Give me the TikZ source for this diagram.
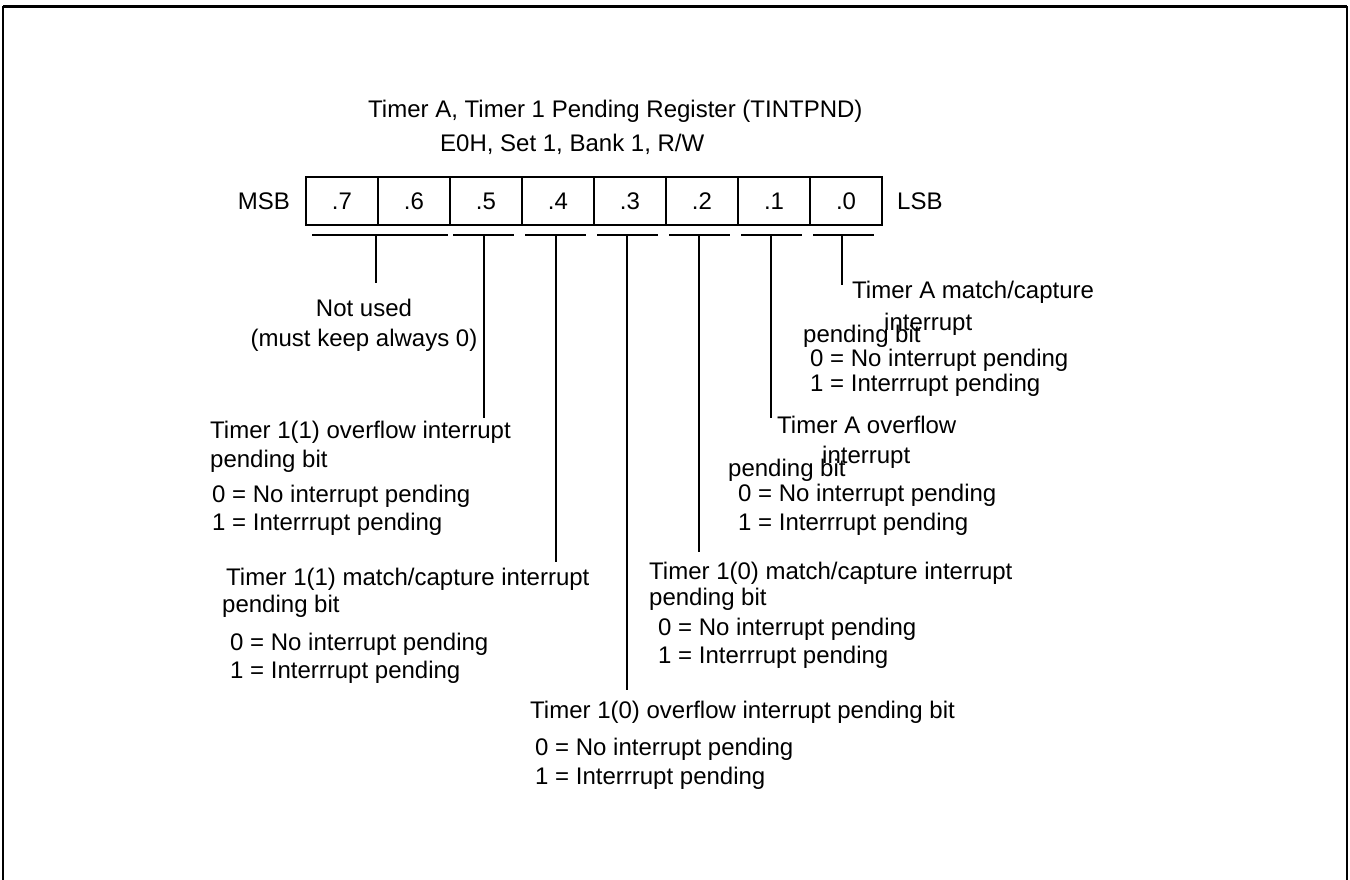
\documentclass[tikz,border=0pt]{standalone}
\usepackage{fontspec}
\setmainfont{Liberation Sans}
\begin{document}
\begin{tikzpicture}[x=1pt,y=-1pt,
  txt/.style={font=\fontsize{24}{28}\selectfont, inner sep=0pt, anchor=base west},
  cell/.style={draw, line width=1.8pt, minimum width=72pt, minimum height=48pt, inner sep=0pt, font=\fontsize{24}{28}\selectfont},
  uline/.style={line width=1.5pt},
  lead/.style={line width=1.5pt}]
\useasboundingbox (0,0) rectangle (1350,880);
% frame
\draw[line width=1.5pt] (3,880) -- (3,7) -- (1347,7) -- (1347,880);
\draw[line width=3pt] (3,7) -- (1347,7);
% titles
\node[txt] (title) at (368,118) {Timer A, Timer 1 Pending Register (TINTPND)};
\node[txt] (sub) at (440,152) {E0H, Set 1, Bank 1, R/W};
% register cells
\foreach \i/\lab in {0/.7,1/.6,2/.5,3/.4,4/.3,5/.2,6/.1,7/.0}
  \node[cell] (c\i) at (342+72*\i,201) {\lab};
\node[txt, anchor=base east] (msb) at (290,209) {MSB};
\node[txt] (lsb) at (897,209) {LSB};
% underlines
\coordinate (a76) at (312,235); \coordinate (b76) at (448,235);
\coordinate (a5) at (453,235); \coordinate (b5) at (514,235);
\coordinate (a4) at (525,235); \coordinate (b4) at (586,235);
\coordinate (a3) at (597,235); \coordinate (b3) at (658,235);
\coordinate (a2) at (669,235); \coordinate (b2) at (730,235);
\coordinate (a1) at (741,235); \coordinate (b1) at (802,235);
\coordinate (a0) at (813,235); \coordinate (b0) at (874,235);
\foreach \k in {76,5,4,3,2,1,0} \draw[uline] (a\k) -- (b\k);
% leader tops and ends
\coordinate (t76) at (376,235); \coordinate (e76) at (376,283);
\coordinate (t5) at (484,235);  \coordinate (e5) at (484,418);
\coordinate (t4) at (556,235);  \coordinate (e4) at (556,562);
\coordinate (t3) at (627,235);  \coordinate (e3) at (627,690);
\coordinate (t2) at (699,235);  \coordinate (e2) at (699,552);
\coordinate (t1) at (771,235);  \coordinate (e1) at (771,418);
\coordinate (t0) at (842,235);  \coordinate (e0) at (842,285);
\foreach \k in {76,5,4,3,2,1,0} \draw[lead] (t\k) -- (e\k);
% bits 7-6
\node[txt, anchor=base] (nu1) at (364,316) {Not used};
\node[txt, anchor=base] (nu2) at (364,346) {(must keep always 0)};
% bit 5
\node[txt] (b5a) at (210,438) {Timer 1(1) overflow interrupt};
\node[txt] (b5b) at (210,467) {pending bit};
\node[txt] (b5c) at (212,502) {0 = No interrupt pending};
\node[txt] (b5d) at (212,530) {1 = Interrrupt pending};
% bit 4
\node[txt] (b4a) at (226,585) {Timer 1(1) match/capture interrupt};
\node[txt] (b4b) at (222,612) {pending bit};
\node[txt] (b4c) at (230,650) {0 = No interrupt pending};
\node[txt] (b4d) at (230,678) {1 = Interrrupt pending};
% bit 3
\node[txt] (b3a) at (530,718) {Timer 1(0) overflow interrupt pending bit};
\node[txt] (b3c) at (535,755) {0 = No interrupt pending};
\node[txt] (b3d) at (535,784) {1 = Interrrupt pending};
% bit 2
\node[txt] (b2a) at (649,579) {Timer 1(0) match/capture interrupt};
\node[txt] (b2b) at (649,605) {pending bit};
\node[txt] (b2c) at (658,635) {0 = No interrupt pending};
\node[txt] (b2d) at (658,663) {1 = Interrrupt pending};
% bit 1
\node[txt] (b1a) at (777,433) {Timer A overflow};
\node[txt] (b1e) at (822,463) {interrupt};
\node[txt] (b1b) at (728,476) {pending bit};
\node[txt] (b1c) at (738,501) {0 = No interrupt pending};
\node[txt] (b1d) at (738,530) {1 = Interrrupt pending};
% bit 0
\node[txt] (b0a) at (852,298) {Timer A match/capture};
\node[txt] (b0e) at (884,330) {interrupt};
\node[txt] (b0b) at (803,342) {pending bit};
\node[txt] (b0c) at (810,366) {0 = No interrupt pending};
\node[txt] (b0d) at (810,391) {1 = Interrrupt pending};
\end{tikzpicture}
\end{document}
